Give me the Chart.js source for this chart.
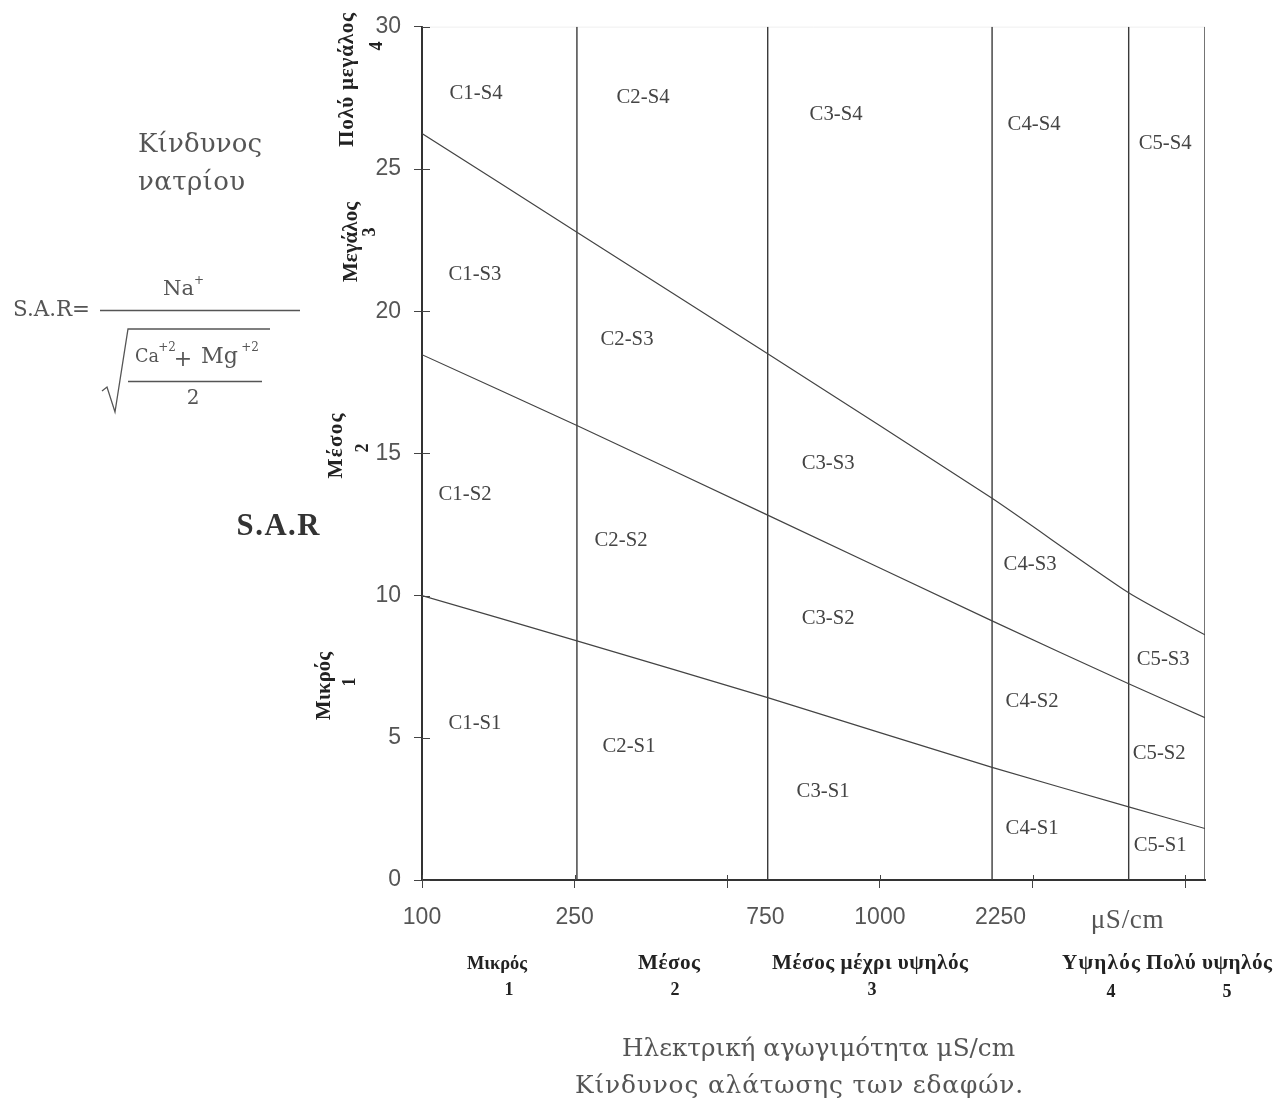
<!DOCTYPE html>
<html>
<head>
<meta charset="utf-8">
<script src="https://cdn.jsdelivr.net/npm/chart.js@4.4.0/dist/chart.umd.min.js"></script>
<style>
  body { margin: 0; background: #fff; }
  canvas { display: block; }
</style>
</head>
<body>
<canvas id="sar" width="1286" height="1108"></canvas>
<script>
// x is in "axis steps" (one tick = 1 step), y is S.A.R
var classBounds = [1.015, 2.265, 3.735, 4.63, 5.13];
var lineX = [0, 1.015, 2.265, 3.735, 4.63, 5.13];
var s1s2 = [10.0, 8.41, 6.41, 3.96, 2.57, 1.81];
var s2s3 = [18.47, 15.98, 12.83, 9.11, 6.9, 5.71];
var s3s4 = [26.25, 22.78, 18.5, 13.42, 10.1, 8.62];

var xMarks = [0, 1, 2, 3, 4, 5];
var xLabelPos = [0, 1, 2.25, 3, 3.79];
var xLabels = ['100', '250', '750', '1000', '2250'];

var zoneNames = ['C1-S4', 'C2-S4', 'C3-S4', 'C4-S4', 'C5-S4',
                 'C1-S3', 'C2-S3', 'C3-S3', 'C4-S3', 'C5-S3',
                 'C1-S2', 'C2-S2', 'C3-S2', 'C4-S2', 'C5-S2',
                 'C1-S1', 'C2-S1', 'C3-S1', 'C4-S1', 'C5-S1'];
var zoneX = [0.354, 1.448, 2.713, 4.01, 4.869,
             0.347, 1.343, 2.661, 3.984, 4.856,
             0.282, 1.304, 2.661, 3.997, 4.83,
             0.347, 1.356, 2.628, 3.997, 4.836];
var zoneY = [27.65, 27.5, 26.9, 26.55, 25.9,
             21.3, 19.0, 14.65, 11.1, 7.75,
             13.55, 11.95, 9.2, 6.27, 4.45,
             5.5, 4.7, 3.1, 1.8, 1.2];

var lineCol = '#3a3a3a';
var datasets = [];

[s1s2, s2s3, s3s4].forEach(function (ys) {
  datasets.push({
    data: lineX.map(function (x, i) { return { x: x, y: ys[i] }; }),
    showLine: true, borderColor: '#444', borderWidth: 1.2, pointRadius: 0, tension: 0.2
  });
});
classBounds.forEach(function (b) {
  datasets.push({
    data: [{ x: b, y: 0 }, { x: b, y: 30 }],
    showLine: true, borderColor: lineCol, borderWidth: 1.4, pointRadius: 0
  });
});
// faint top edge
datasets.push({
  data: [{ x: 0, y: 30 }, { x: 5.13, y: 30 }],
  showLine: true, borderColor: '#dcdcdc', borderWidth: 1, pointRadius: 0
});
// zone labels anchor points
datasets.push({
  data: zoneX.map(function (x, i) { return { x: x, y: zoneY[i] }; }),
  showLine: false, pointRadius: 0
});

// draw text; if width is given, grow/shrink the font a bit and spread the rest
function txt(ctx, s, x, y, size, family, color, align, width, weight) {
  ctx.save();
  var w8 = weight ? weight + ' ' : '';
  ctx.font = w8 + size + 'px ' + family;
  ctx.fillStyle = color;
  ctx.textBaseline = 'middle';
  ctx.textAlign = align || 'center';
  if (width) {
    var w = ctx.measureText(s).width;
    var k = Math.min(Math.max(width / w, 0.85), 1.18);
    size = size * k;
    ctx.font = w8 + size.toFixed(1) + 'px ' + family;
    w = ctx.measureText(s).width;
    var n = Array.from(s).length;
    if (n > 1) ctx.letterSpacing = ((width - w) / (n - 1)).toFixed(2) + 'px';
    if (ctx.textAlign === 'center') { ctx.textAlign = 'left'; x = x - width / 2; }
  }
  ctx.fillText(s, x, y);
  ctx.restore();
}

function vtxt(ctx, s, x, y, size, family, color, len, weight) {
  ctx.save();
  ctx.translate(x, y);
  ctx.rotate(-Math.PI / 2);
  txt(ctx, s, 0, 0, size, family, color, 'center', len, weight);
  ctx.restore();
}

var textPlugin = {
  id: 'sarText',
  afterDraw: function (chart) {
    var ctx = chart.ctx;
    var xs = chart.scales.x, ys = chart.scales.y;
    var a = chart.chartArea;

    // small inward tick halves
    ctx.save();
    ctx.strokeStyle = '#444';
    ctx.lineWidth = 1;
    for (var v = 0; v <= 30; v += 5) {
      var py = Math.round(ys.getPixelForValue(v)) + 0.5;
      ctx.beginPath(); ctx.moveTo(a.left, py); ctx.lineTo(a.left + 8, py); ctx.stroke();
    }
    xMarks.forEach(function (m) {
      var px = Math.round(xs.getPixelForValue(m)) + 0.5;
      ctx.beginPath(); ctx.moveTo(px, a.bottom); ctx.lineTo(px, a.bottom - 5); ctx.stroke();
    });
    ctx.restore();

    var lser = '"Liberation Serif"';
    var serif = '"DejaVu Serif"';

    // zone labels
    var meta = chart.getDatasetMeta(chart.data.datasets.length - 1);
    meta.data.forEach(function (pt, i) {
      txt(ctx, zoneNames[i], pt.x, pt.y, 19, lser, '#444', 'center', 53);
    });

    // unit next to the x labels
    txt(ctx, 'μS/cm', xs.getPixelForValue(4.62), 921, 23, lser, '#555', 'center', 73);

    // sodium hazard block
    txt(ctx, 'Κίνδυνος', 138, 145, 22, serif, '#555', 'left', 124);
    txt(ctx, 'νατρίου', 138, 183, 22, serif, '#555', 'left', 107);
    txt(ctx, 'S.A.R=', 13, 310, 19, serif, '#555', 'left', 77);

    ctx.save();
    ctx.strokeStyle = '#555';
    ctx.lineWidth = 1.3;
    ctx.beginPath(); ctx.moveTo(100, 310.5); ctx.lineTo(300, 310.5); ctx.stroke();
    ctx.beginPath();
    ctx.moveTo(102, 391); ctx.lineTo(107, 387); ctx.lineTo(115, 412);
    ctx.lineTo(128, 329); ctx.lineTo(270, 329);
    ctx.stroke();
    ctx.beginPath(); ctx.moveTo(128, 381.5); ctx.lineTo(262, 381.5); ctx.stroke();
    ctx.restore();

    txt(ctx, 'Na', 163, 290, 20, serif, '#555', 'left', 31);
    txt(ctx, '+', 199, 281, 12, serif, '#555', 'center');
    txt(ctx, 'Ca', 135, 357, 19, serif, '#555', 'left', 24);
    txt(ctx, '+2', 167, 348, 12, serif, '#555', 'center');
    txt(ctx, '+', 183, 360, 22, serif, '#555', 'center');
    txt(ctx, 'Mg', 201, 357, 19, serif, '#555', 'left', 37);
    txt(ctx, '+2', 250, 348, 12, serif, '#555', 'center');
    txt(ctx, '2', 193, 399, 20, serif, '#555', 'center');

    txt(ctx, 'S.A.R', 278, 527, 26, lser, '#333', 'center', 83, 'bold');

    // sodium hazard classes (rotated)
    var bF = lser;
    vtxt(ctx, 'Πολύ μεγάλος', 348, 80, 18, bF, '#222', 134, 'bold');
    vtxt(ctx, '4', 377, 46, 18, bF, '#222', 0, 'bold');
    vtxt(ctx, 'Μεγάλος', 352, 242, 18, bF, '#222', 80, 'bold');
    vtxt(ctx, '3', 370, 232, 18, bF, '#222', 0, 'bold');
    vtxt(ctx, 'Μέσος', 337, 446, 18, bF, '#222', 65, 'bold');
    vtxt(ctx, '2', 363, 448, 18, bF, '#222', 0, 'bold');
    vtxt(ctx, 'Μικρός', 325, 686, 18, bF, '#222', 68, 'bold');
    vtxt(ctx, '1', 350, 682, 18, bF, '#222', 0, 'bold');

    // salinity hazard classes
    txt(ctx, 'Μικρός', 497, 964, 18, bF, '#222', 'center', 60, 'bold');
    txt(ctx, '1', 509, 990, 18, bF, '#222', 'center', 0, 'bold');
    txt(ctx, 'Μέσος', 669, 964, 18, bF, '#222', 'center', 62, 'bold');
    txt(ctx, '2', 675, 990, 18, bF, '#222', 'center', 0, 'bold');
    txt(ctx, 'Μέσος μέχρι υψηλός', 870, 964, 18, bF, '#222', 'center', 196, 'bold');
    txt(ctx, '3', 872, 990, 18, bF, '#222', 'center', 0, 'bold');
    txt(ctx, 'Υψηλός', 1101, 964, 18, bF, '#222', 'center', 78, 'bold');
    txt(ctx, '4', 1111, 992, 18, bF, '#222', 'center', 0, 'bold');
    txt(ctx, 'Πολύ υψηλός', 1209, 964, 18, bF, '#222', 'center', 126, 'bold');
    txt(ctx, '5', 1227, 992, 18, bF, '#222', 'center', 0, 'bold');

    txt(ctx, 'Ηλεκτρική αγωγιμότητα μS/cm', 622, 1050, 21, serif, '#555', 'left', 393);
    txt(ctx, 'Κίνδυνος αλάτωσης των εδαφών.', 575, 1087, 21, serif, '#555', 'left', 448);
  }
};

new Chart(document.getElementById('sar').getContext('2d'), {
  type: 'scatter',
  data: { datasets: datasets },
  options: {
    responsive: false,
    animation: false,
    events: [],
    layout: { padding: { left: 352, right: 81, top: 24, bottom: 168 } },
    plugins: { legend: { display: false }, tooltip: { enabled: false } },
    scales: {
      x: {
        type: 'linear', min: 0, max: 5.13,
        afterBuildTicks: function (s) {
          var vals = xMarks.concat(xLabelPos).filter(function (v, i, arr) { return arr.indexOf(v) === i; });
          vals.sort(function (p, q) { return p - q; });
          s.ticks = vals.map(function (v) { return { value: v }; });
        },
        afterFit: function (s) { s.height = 60; },
        border: { color: '#333', width: 2 },
        grid: {
          drawOnChartArea: false, tickLength: 8,
          tickColor: function (c) {
            return c.tick && xMarks.indexOf(c.tick.value) >= 0 ? '#444' : 'rgba(0,0,0,0)';
          }
        },
        ticks: {
          autoSkip: false, maxRotation: 0, minRotation: 0, padding: 16,
          color: '#555', font: { family: 'Liberation Sans', size: 23 },
          callback: function (v) {
            var i = xLabelPos.indexOf(v);
            return i >= 0 ? xLabels[i] : '';
          }
        }
      },
      y: {
        min: 0, max: 30,
        afterFit: function (s) { s.width = 70; },
        border: { color: '#333', width: 2 },
        grid: { drawOnChartArea: false, tickLength: 8, tickColor: '#444' },
        ticks: { stepSize: 5, padding: 13, color: '#555', font: { family: 'Liberation Sans', size: 23 } }
      }
    }
  },
  plugins: [textPlugin]
});
</script>
</body>
</html>
